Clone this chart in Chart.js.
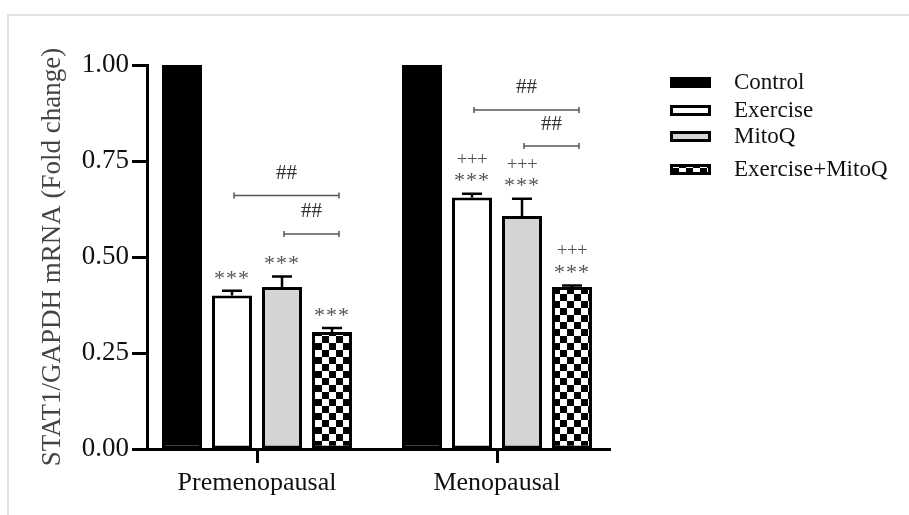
<!DOCTYPE html>
<html>
<head>
<meta charset="utf-8">
<script src="https://cdn.jsdelivr.net/npm/chart.js@4.4.1/dist/chart.umd.min.js"></script>
<style>
  body { margin: 0; background: #fff; }
  #wrap { position: relative; width: 909px; height: 515px; }
  #frame { position: absolute; left: 7px; top: 14px; right: 0; bottom: 0; border-top: 2px solid #e2e2e2; border-left: 2px solid #e2e2e2; }
  canvas { position: absolute; left: 0; top: 0; }
</style>
</head>
<body>
<div id="wrap">
  <div id="frame"></div>
  <canvas id="chart" width="909" height="515"></canvas>
</div>
<script>
// groups on the x axis
const groups = ['Premenopausal', 'Menopausal'];
const series = ['Control', 'Exercise', 'MitoQ', 'Exercise+MitoQ'];

// fold change, one array per series (Premenopausal, Menopausal)
const control = [1.00, 1.00];
const exercise = [0.40, 0.655];
const mitoq = [0.422, 0.607];
const exerciseMitoq = [0.305, 0.422];

// SEM (upper error bar only)
const controlErr = [0, 0];
const exerciseErr = [0.012, 0.01];
const mitoqErr = [0.027, 0.045];
const exerciseMitoqErr = [0.01, 0.004];

// significance marks above each bar, top line first
const controlMarks = [[], []];
const exerciseMarks = [['***'], ['+++', '***']];
const mitoqMarks = [['***'], ['+++', '***']];
const exerciseMitoqMarks = [['***'], ['+++', '***']];

// ## comparison brackets
const bracketGroup = [0, 0, 1, 1];
const bracketFrom = [1, 2, 1, 2];
const bracketTo = [3, 3, 3, 3];
const bracketValue = [0.66, 0.56, 0.883, 0.789];
const bracketText = ['##', '##', '##', '##'];

const yTicks = [0, 0.25, 0.5, 0.75, 1];

const values = [control, exercise, mitoq, exerciseMitoq];
const errors = [controlErr, exerciseErr, mitoqErr, exerciseMitoqErr];
const marks = [controlMarks, exerciseMarks, mitoqMarks, exerciseMitoqMarks];

const canvas = document.getElementById('chart');
const ctx0 = canvas.getContext('2d');

function checker(cell) {
  const c = document.createElement('canvas');
  c.width = c.height = cell * 2;
  const g = c.getContext('2d');
  g.fillStyle = '#fff';
  g.fillRect(0, 0, cell * 2, cell * 2);
  g.fillStyle = '#000';
  g.fillRect(0, 0, cell, cell);
  g.fillRect(cell, cell, cell, cell);
  return ctx0.createPattern(c, 'repeat');
}

const fills = ['#000000', '#ffffff', '#d4d4d4', checker(7)];
const serif = '"Liberation Serif", "Times New Roman", serif';

const extras = {
  id: 'extras',
  afterDatasetsDraw(chart) {
    const ctx = chart.ctx;
    const y = chart.scales.y;
    const tops = [];
    ctx.save();
    // error bars
    ctx.strokeStyle = '#000';
    ctx.lineWidth = 2.5;
    chart.data.datasets.forEach((ds, di) => {
      tops[di] = [];
      chart.getDatasetMeta(di).data.forEach((bar, i) => {
        const e = errors[di][i];
        const top = y.getPixelForValue(values[di][i] + e);
        tops[di][i] = top;
        if (!e) return;
        ctx.beginPath();
        ctx.moveTo(bar.x, bar.y);
        ctx.lineTo(bar.x, top);
        ctx.moveTo(bar.x - 10, top);
        ctx.lineTo(bar.x + 10, top);
        ctx.stroke();
      });
    });
    // stars / pluses
    ctx.fillStyle = '#555';
    ctx.textAlign = 'center';
    ctx.textBaseline = 'middle';
    marks.forEach((m, di) => {
      const meta = chart.getDatasetMeta(di);
      m.forEach((lines, i) => {
        const bar = meta.data[i];
        lines.slice().reverse().forEach((t, k) => {
          const cy = tops[di][i] - 17 - k * 17;
          if (t === '***') {
            ctx.font = '22px ' + serif;
            ctx.letterSpacing = '1px';
            ctx.fillText(t, bar.x, cy + 5);
          } else {
            ctx.font = '19px ' + serif;
            ctx.letterSpacing = '-0.5px';
            ctx.fillText(t, bar.x, cy);
          }
        });
      });
    });
    ctx.letterSpacing = '0px';
    // brackets
    ctx.strokeStyle = '#555';
    ctx.lineWidth = 1.5;
    ctx.fillStyle = '#333';
    ctx.font = '21px ' + serif;
    bracketGroup.forEach((g, k) => {
      const x1 = chart.getDatasetMeta(bracketFrom[k]).data[g].x + 2;
      const x2 = chart.getDatasetMeta(bracketTo[k]).data[g].x + 7;
      const by = y.getPixelForValue(bracketValue[k]);
      ctx.beginPath();
      ctx.moveTo(x1, by); ctx.lineTo(x2, by);
      ctx.moveTo(x1, by - 3); ctx.lineTo(x1, by + 3);
      ctx.moveTo(x2, by - 3); ctx.lineTo(x2, by + 3);
      ctx.stroke();
      ctx.fillText(bracketText[k], (x1 + x2) / 2, by - 22);
    });
    // legend
    const rowY = [82, 110, 136, 169];
    ctx.textAlign = 'left';
    ctx.fillStyle = '#111';
    ctx.font = '23px ' + serif;
    chart.data.datasets.forEach((ds, di) => {
      const ly = rowY[di];
      ctx.fillStyle = ds.backgroundColor;
      ctx.fillRect(670, ly - 5, 41, 11);
      ctx.strokeStyle = '#000';
      ctx.lineWidth = 3;
      ctx.strokeRect(671.5, ly - 3.5, 38, 8);
      ctx.fillStyle = '#111';
      ctx.fillText(ds.label, 734, ly + 1);
    });
    ctx.restore();
  }
};

new Chart(canvas, {
  type: 'bar',
  data: {
    datasets: series.map((name, di) => ({
      label: name,
      data: values[di].map((v, i) => ({ x: i + 1, y: v })),
      backgroundColor: fills[di],
      borderColor: '#000',
      borderWidth: 3,
      borderSkipped: false
    }))
  },
  options: {
    responsive: false,
    animation: false,
    layout: { padding: { left: 0, right: 299, top: 65, bottom: 0 } },
    categoryPercentage: 0.8333,
    barPercentage: 0.8,
    plugins: { legend: { display: false }, tooltip: { enabled: false } },
    scales: {
      x: {
        type: 'linear',
        offset: false,
        min: 1 - 110 / 240,
        max: 2 + 113 / 240,
        afterBuildTicks: s => { s.ticks = groups.map((g, i) => ({ value: i + 1 })); },
        afterFit: s => { s.height = 66; },
        ticks: {
          callback: v => groups[v - 1] || '',
          color: '#111',
          font: { family: serif, size: 26 },
          padding: 5,
          maxRotation: 0,
          autoSkip: false
        },
        grid: { offset: false, drawOnChartArea: false, color: '#000', tickLength: 14, tickWidth: 3 },
        border: { color: '#000', width: 3 }
      },
      y: {
        min: 0,
        max: 1,
        afterBuildTicks: s => { s.ticks = yTicks.map(v => ({ value: v })); },
        afterFit: s => { s.width = 147; },
        ticks: {
          callback: v => v.toFixed(2),
          color: '#111',
          font: { family: serif, size: 27 },
          padding: 3
        },
        grid: { drawOnChartArea: false, color: '#000', tickLength: 15, tickWidth: 3 },
        border: { color: '#000', width: 3 },
        title: {
          display: true,
          text: 'STAT1/GAPDH mRNA (Fold change)',
          color: '#444',
          font: { family: serif, size: 27 },
          padding: { top: 37, bottom: 0 }
        }
      }
    }
  },
  plugins: [extras]
});
</script>
</body>
</html>
